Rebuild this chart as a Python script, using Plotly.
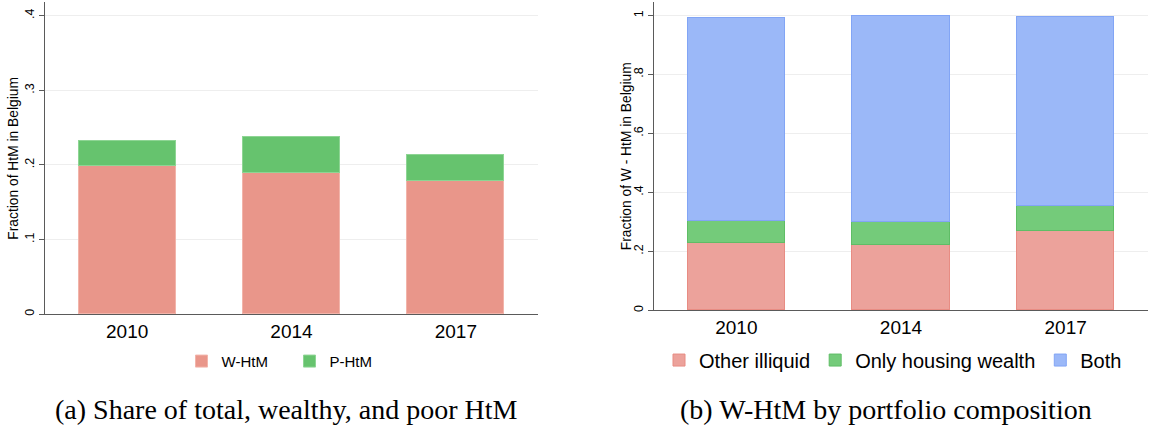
import plotly.graph_objects as go

# ---- data ----
years = ["2010", "2014", "2017"]
w_htm = [0.198, 0.189, 0.178]
p_htm = [0.034, 0.049, 0.036]

other_illiquid = [0.230, 0.223, 0.270]
only_housing = [0.074, 0.077, 0.085]
both = [0.688, 0.700, 0.639]

left_ticks = [0, 0.1, 0.2, 0.3, 0.4]
left_ticktext = ["0", ".1", ".2", ".3", ".4"]
right_ticks = [0, 0.2, 0.4, 0.6, 0.8, 1.0]
right_ticktext = ["0", ".2", ".4", ".6", ".8", "1"]

W, H = 1151, 438
SANS = "Liberation Sans, Arial, sans-serif"
SERIF = "Liberation Serif, Times New Roman, serif"
BW = 0.59

fig = go.Figure()

fig.add_trace(go.Bar(x=years, y=w_htm, name="W-HtM", width=BW,
                     marker=dict(color="#E9968A", line=dict(color="#F2B4AA", width=1)),
                     xaxis="x", yaxis="y", legend="legend"))
fig.add_trace(go.Bar(x=years, y=p_htm, name="P-HtM", width=BW,
                     marker=dict(color="#66C36E", line=dict(color="#8ED594", width=1)),
                     xaxis="x", yaxis="y", legend="legend"))

fig.add_trace(go.Bar(x=years, y=other_illiquid, name="Other illiquid", width=BW,
                     marker=dict(color="#ECA29B", line=dict(color="#E88C83", width=1)),
                     xaxis="x2", yaxis="y2", legend="legend2"))
fig.add_trace(go.Bar(x=years, y=only_housing, name="Only housing wealth", width=BW,
                     marker=dict(color="#74CB7A", line=dict(color="#5FBD66", width=1)),
                     xaxis="x2", yaxis="y2", legend="legend2"))
fig.add_trace(go.Bar(x=years, y=both, name="Both", width=BW,
                     marker=dict(color="#9BB8F8", line=dict(color="#82A5F5", width=1)),
                     xaxis="x2", yaxis="y2", legend="legend2"))

axis_line = "#5a5a5a"
grid = "#EEEEEE"

def xax(domain, anchor):
    return dict(domain=domain, anchor=anchor, type="category",
                categoryorder="array", categoryarray=years,
                range=[-0.5, 2.5], showline=True, linecolor=axis_line, linewidth=1,
                ticks="", showgrid=False, zeroline=False,
                tickfont=dict(family=SANS, size=19, color="black"))

def yax(domain, anchor, rng, tv, tt):
    return dict(domain=domain, anchor=anchor, range=rng,
                tickvals=tv, ticktext=tt, tickangle=-90,
                ticks="outside", ticklen=5, tickcolor=axis_line,
                showline=True, linecolor=axis_line, linewidth=1,
                showgrid=True, gridcolor=grid, gridwidth=1, zeroline=False,
                tickfont=dict(family=SANS, size=12.5, color="black"))

fig.update_layout(
    width=W, height=H, autosize=False,
    margin=dict(l=0, r=0, t=0, b=0),
    paper_bgcolor="white", plot_bgcolor="white",
    barmode="stack", bargap=0,
    xaxis=xax([45 / W, 538 / W], "y"),
    yaxis=yax([(H - 315.7) / H, (H - 2) / H], "x", [0, 0.4183], left_ticks, left_ticktext),
    xaxis2=xax([654 / W, 1148 / W], "y2"),
    yaxis2=yax([(H - 311.7) / H, (H - 2) / H], "x2", [0, 1.046], right_ticks, right_ticktext),
    legend=dict(orientation="h", x=(201.5 - 20) / W, xanchor="left",
                y=(H - 363) / H, yanchor="middle", entrywidth=63,
                font=dict(family=SANS, size=15, color="black"),
                bgcolor="rgba(0,0,0,0)", traceorder="normal"),
    legend2=dict(orientation="h", x=(679 - 20) / W, xanchor="left",
                 y=(H - 361.7) / H, yanchor="middle",
                 font=dict(family=SANS, size=20, color="black"),
                 bgcolor="rgba(0,0,0,0)", traceorder="normal"),
    annotations=[
        dict(text="Fraction of HtM in Belgium", xref="paper", yref="paper",
             x=13.5 / W, y=(H - 158.9) / H, textangle=-90, showarrow=False,
             xanchor="center", yanchor="middle",
             font=dict(family=SANS, size=13.8, color="black")),
        dict(text="Fraction of W - HtM in Belgium", xref="paper", yref="paper",
             x=626 / W, y=(H - 156.9) / H, textangle=-90, showarrow=False,
             xanchor="center", yanchor="middle",
             font=dict(family=SANS, size=13.8, color="black")),
        dict(text="(a) Share of total, wealthy, and poor HtM", xref="paper", yref="paper",
             x=286 / W, y=(H - 411) / H, showarrow=False,
             xanchor="center", yanchor="middle",
             font=dict(family=SERIF, size=28, color="black")),
        dict(text="(b) W-HtM by portfolio composition", xref="paper", yref="paper",
             x=885.5 / W, y=(H - 411) / H, showarrow=False,
             xanchor="center", yanchor="middle",
             font=dict(family=SERIF, size=28, color="black")),
    ],
)

fig.write_html("out.html", config={"displayModeBar": False},
               post_script="document.body.style.margin='0';document.body.style.padding='0';")
